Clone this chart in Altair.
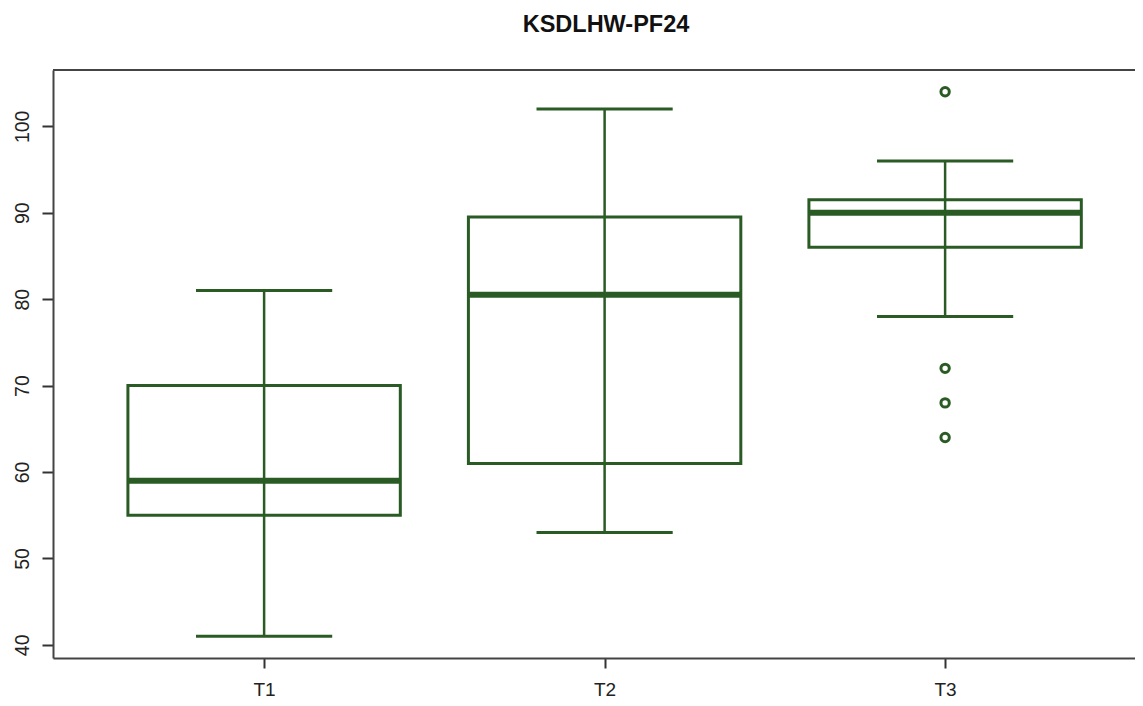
import altair as alt
import pandas as pd

groups = ["T1", "T2", "T3"]
positions = [1, 2, 3]
whisker_low = [41, 53, 78]
q1 = [55, 61, 86]
median = [59, 80.5, 90]
q3 = [70, 89.5, 91.5]
whisker_high = [81, 102, 96]

outlier_pos = [3, 3, 3, 3]
outlier_val = [104, 72, 68, 64]

GREEN = "#2b5b24"
W, H = 1082, 588
XDOM = [0.38, 0.38 + W / 340.5]
YDOM = [38.48, 106.52]

box_df = pd.DataFrame({
    "group": groups, "pos": positions, "lo": whisker_low, "q1": q1,
    "med": median, "q3": q3, "hi": whisker_high,
})
out_df = pd.DataFrame({"pos": outlier_pos, "val": outlier_val})

xscale = alt.Scale(domain=XDOM, nice=False, zero=False)
yscale = alt.Scale(domain=YDOM, nice=False, zero=False)

xaxis = alt.Axis(
    values=positions, labelExpr="['T1','T2','T3'][datum.value - 1]",
    title=None, grid=False, tickSize=10, tickWidth=2, tickColor="#333",
    domainColor="#444", domainWidth=2, labelFontSize=19, labelColor="#222",
    labelFont="Liberation Sans", labelPadding=12,
)
yaxis = alt.Axis(
    values=[40, 50, 60, 70, 80, 90, 100], title=None, grid=False,
    tickSize=11, tickWidth=2, tickColor="#333", domainColor="#444",
    domainWidth=2, labelFontSize=19.5, labelColor="#222",
    labelFont="Liberation Sans", labelAngle=270, labelAlign="center",
    labelBaseline="bottom", labelPadding=10,
)

base = alt.Chart(box_df)

boxes = base.mark_rect(fill="white", stroke=GREEN, strokeWidth=3).transform_calculate(
    xl="datum.pos - 0.4", xr="datum.pos + 0.4"
).encode(
    x=alt.X("xl:Q", scale=xscale, axis=xaxis),
    x2="xr:Q",
    y=alt.Y("q1:Q", scale=yscale, axis=yaxis),
    y2="q3:Q",
)

whisk = base.mark_rule(color=GREEN, strokeWidth=2.5).encode(
    x=alt.X("pos:Q", scale=xscale), y=alt.Y("lo:Q", scale=yscale), y2="hi:Q"
)

caps_lo = base.mark_rule(color=GREEN, strokeWidth=3).transform_calculate(
    xl="datum.pos - 0.2", xr="datum.pos + 0.2"
).encode(x=alt.X("xl:Q", scale=xscale), x2="xr:Q", y=alt.Y("lo:Q", scale=yscale))

caps_hi = base.mark_rule(color=GREEN, strokeWidth=3).transform_calculate(
    xl="datum.pos - 0.2", xr="datum.pos + 0.2"
).encode(x=alt.X("xl:Q", scale=xscale), x2="xr:Q", y=alt.Y("hi:Q", scale=yscale))

med = base.mark_rule(color=GREEN, strokeWidth=6).transform_calculate(
    xl="datum.pos - 0.4", xr="datum.pos + 0.4"
).encode(x=alt.X("xl:Q", scale=xscale), x2="xr:Q", y=alt.Y("med:Q", scale=yscale))

outs = alt.Chart(out_df).mark_point(
    shape="circle", filled=False, color=GREEN, strokeWidth=3, size=70, opacity=1
).encode(x=alt.X("pos:Q", scale=xscale), y=alt.Y("val:Q", scale=yscale))

top_border = alt.Chart(box_df).mark_rule(color="#444", strokeWidth=2).encode(
    x=alt.value(0), x2=alt.value(W), y=alt.value(0)
)

chart = alt.layer(boxes, whisk, caps_lo, caps_hi, med, outs, top_border).properties(
    width=W, height=H,
    title=alt.TitleParams(
        "KSDLHW-PF24", fontSize=23.5, fontWeight="bold", font="Liberation Sans",
        color="#111", anchor="middle", offset=33, dx=12,
    ),
    autosize=alt.AutoSizeParams(type="none"),
    padding={"left": 45, "top": 62, "right": 0, "bottom": 40},
).configure_view(stroke=None)

chart.save("out.html", embed_options={"renderer": "svg", "actions": False})
